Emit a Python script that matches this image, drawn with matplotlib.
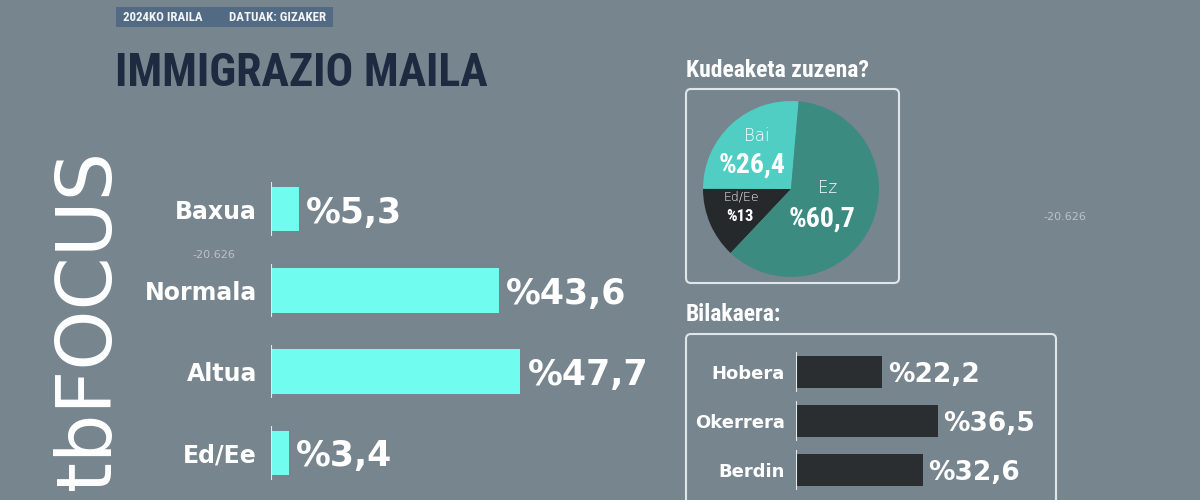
import numpy as np
import matplotlib

matplotlib.use("Agg")
import matplotlib.pyplot as plt
from matplotlib import font_manager
from matplotlib.patches import FancyBboxPatch, Rectangle

W, H = 1200, 500
BG = "#77858e"

# data
levels = ["Baxua", "Normala", "Altua", "Ed/Ee"]
level_pct = [5.3, 43.6, 47.7, 3.4]

mgmt_labels = ["Bai", "Ed/Ee", "Ez"]
mgmt_pct = [26.4, 13, 60.7]

trend_labels = ["Hobera", "Okerrera", "Berdin"]
trend_pct = [22.2, 36.5, 32.6]


def pct(v):
    return "%" + f"{v:g}".replace(".", ",")


# condensed font for the headline texts, whatever is installed
names = {f.name for f in font_manager.fontManager.ttflist}
narrow = next(
    (n for n in ["Roboto Condensed", "Liberation Sans Narrow", "Open Sans Condensed"] if n in names),
    "DejaVu Sans",
)
NARROW = dict(family=narrow, weight="bold", stretch="condensed")
SANS = dict(family="DejaVu Sans")

fig = plt.figure(figsize=(W / 100, H / 100), dpi=100, facecolor=BG)


def px_axes(x0, y0, x1, y1):
    return fig.add_axes([x0 / W, 1 - y1 / H, (x1 - x0) / W, (y1 - y0) / H])


# overlay in pixel coordinates for titles, boxes and logo
bg = fig.add_axes([0, 0, 1, 1])
bg.set_xlim(0, W)
bg.set_ylim(H, 0)
bg.axis("off")

# faint background readings
bg.text(192, 258, "-20.626", color="#b9c3c9", fontsize=8, va="baseline", **SANS)
bg.text(1043, 220, "-20.626", color="#b9c3c9", fontsize=8, va="baseline", **SANS)

bg.add_patch(Rectangle((116, 7), 217, 20, color="#536a84", lw=0))
bg.text(123, 17.5, "2024KO IRAILA", color="#f2f4f6", fontsize=9.3, va="center", **NARROW)
bg.text(229, 17.5, "DATUAK: GIZAKER", color="#f2f4f6", fontsize=9.3, va="center", **NARROW)
bg.text(115, 86, "IMMIGRAZIO MAILA", color="#1d2a3f", fontsize=33, va="baseline", **NARROW)

bg.text(110, 150, "tbFOCUS", color="white", fontsize=55, rotation=90,
        rotation_mode="anchor", ha="right", va="baseline", **SANS)

bg.text(686, 77, "Kudeaketa zuzena?", color="white", fontsize=17, va="baseline", **NARROW)
bg.add_patch(FancyBboxPatch((686, 89), 213, 194, boxstyle="round,pad=0,rounding_size=5",
                            fc="none", ec="#dfe6ea", lw=1.5))

bg.text(686, 321, "Bilakaera:", color="white", fontsize=17, va="baseline", **NARROW)
bg.add_patch(FancyBboxPatch((686, 334), 370, 200, boxstyle="round,pad=0,rounding_size=5",
                            fc="none", ec="#dfe6ea", lw=1.5))

# main bar chart
ax = px_axes(271, 168.5, 532.5, 493.5)
pos = np.arange(len(levels))
ax.barh(pos, level_pct, height=0.55, color="#70fcef")
for p in pos:
    ax.vlines(0, p - 0.33, p + 0.33, color="#e3e9ec", lw=1.5)
for i, (lab, v) in enumerate(zip(levels, level_pct)):
    ax.annotate(lab, (0, i), xytext=(-10, 0), textcoords="offset points",
                ha="right", va="center_baseline", color="white", fontsize=17,
                weight="bold", **SANS)
    ax.annotate(pct(v), (v, i), xytext=(5, 0), textcoords="offset points",
                ha="left", va="center_baseline", color="white", fontsize=25,
                weight="bold", **SANS)
ax.set_xlim(0, 50)
ax.set_ylim(len(levels) - 0.5, -0.5)
ax.axis("off")

# pie chart
pax = px_axes(703, 101, 879, 277)
pax.pie(mgmt_pct, colors=["#50cec3", "#25292c", "#3b8b80"], startangle=85,
        counterclock=True, radius=1, wedgeprops=dict(lw=0))
pax.set_xlim(-1, 1)
pax.set_ylim(-1, 1)
pax.set_aspect("equal")
name_xy = [(-0.39, 0.54), (-0.56, -0.13), (0.41, -0.05)]
pct_xy = [(-0.44, 0.19), (-0.58, -0.36), (0.35, -0.43)]
name_fs = [12, 9, 12]
pct_fs = [20, 12, 20]
for lab, v, nxy, qxy, nf, qf in zip(mgmt_labels, mgmt_pct, name_xy, pct_xy, name_fs, pct_fs):
    pax.text(*nxy, lab, ha="center", va="baseline", color="white", fontsize=nf,
             family="DejaVu Sans", weight="light")
    pax.text(*qxy, pct(v), ha="center", va="baseline", color="white", fontsize=qf, **NARROW)

# evolution bar chart
tax = px_axes(796, 347.5, 1029, 494.5)
tpos = np.arange(len(trend_labels))
tax.barh(tpos, trend_pct, height=0.67, color="#2a2e31")
for p in tpos:
    tax.vlines(0, p - 0.4, p + 0.4, color="#e3e9ec", lw=1.5)
for i, (lab, v) in enumerate(zip(trend_labels, trend_pct)):
    tax.annotate(lab, (0, i), xytext=(-8, 0), textcoords="offset points",
                 ha="right", va="center_baseline", color="white", fontsize=13,
                 weight="bold", **SANS)
    tax.annotate(pct(v), (v, i), xytext=(4, 0), textcoords="offset points",
                 ha="left", va="center_baseline", color="white", fontsize=19,
                 weight="bold", **SANS)
tax.set_xlim(0, 60)
tax.set_ylim(len(trend_labels) - 0.5, -0.5)
tax.axis("off")

fig.savefig("out.png", dpi=100, facecolor=BG)
